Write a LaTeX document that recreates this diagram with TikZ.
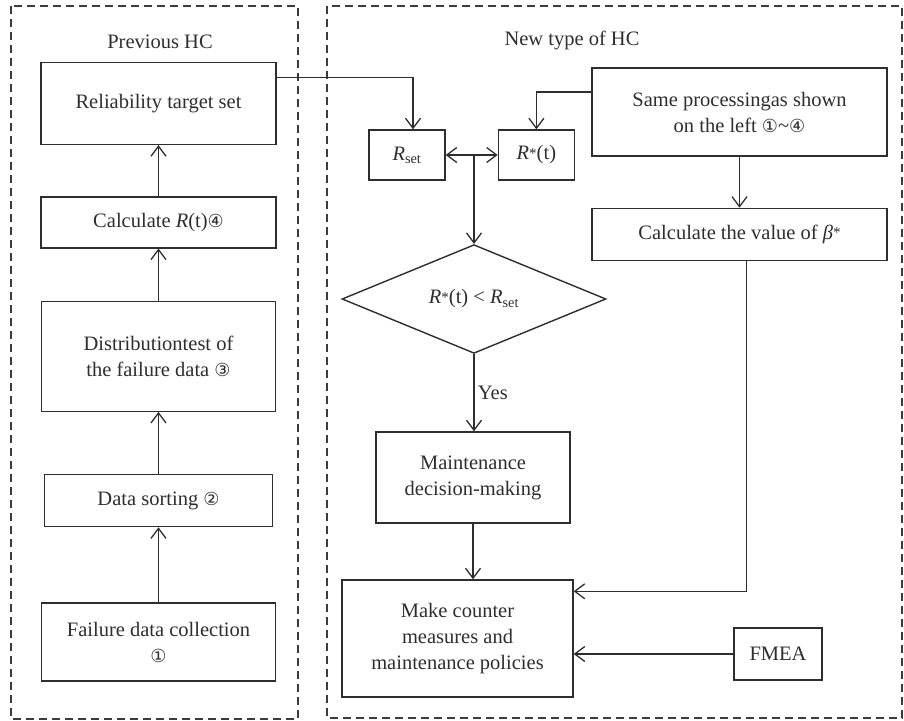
\documentclass[tikz,border=0pt]{standalone}
\usepackage{fontspec}
\setmainfont{Liberation Serif}
\newfontfamily\circfont{DejaVu Sans}
\usetikzlibrary{shapes.geometric, arrows.meta, positioning, calc}
\definecolor{ink}{HTML}{2E2E2E}
\definecolor{frameink}{HTML}{3C3C3C}
\newcommand{\circnum}[1]{{\circfont\fontsize{18}{18}\selectfont #1}}
\newcommand{\starsup}{\raisebox{0.08em}{\fontsize{15}{15}\selectfont *}}
\tikzset{
  box/.style      = {rectangle, draw=ink, line width=1.4pt, fill=white, align=center,
                      inner sep=2pt, text=ink, font=\fontsize{20.5}{26}\selectfont},
  decision/.style = {diamond, draw=ink, line width=1.4pt, fill=white, align=center,
                      minimum width=264pt, minimum height=108pt, inner sep=0pt,
                      text=ink, font=\fontsize{20.5}{26}\selectfont},
  frame/.style    = {draw=frameink, line width=1.1pt, dash pattern=on 8pt off 5pt},
  title/.style    = {text=ink, font=\fontsize{20.5}{24}\selectfont},
  flow/.style     = {-{Straight Barb[length=10pt, width=15pt, line width=1.3pt]},
                      line width=1.3pt, draw=ink},
  flowboth/.style = {{Straight Barb[length=10pt, width=15pt, line width=1.3pt]}-{Straight Barb[length=10pt, width=15pt, line width=1.3pt]},
                      line width=1.3pt, draw=ink},
}

\begin{document}
\begin{tikzpicture}[x=1pt, y=1pt]
\useasboundingbox (0,0) rectangle (904,-720);

% ---- Frames ----
\draw[frame] (11,-6) rectangle (298,-719);
\draw[frame] (327,-6) rectangle (902,-718);
\node[title] (prevtitle) at (160,-42) {Previous HC};
\node[title] (newtitle) at (572,-40) {New type of HC};

% ---- Previous HC ----
\node[box, minimum width=234pt, minimum height=78pt] (collect) at (158.5,-642)
  {Failure data collection\\ \circnum{①}};
\node[box, above=75pt of collect, minimum width=228pt, minimum height=52pt] (sorting)
  {Data sorting \circnum{②}};
\node[box, above=62pt of sorting, minimum width=234pt, minimum height=110pt] (distr)
  {Distributiontest of\\ the failure data \circnum{③}};
\node[box, above=52pt of distr, minimum width=235pt, minimum height=51pt] (calcr)
  {Calculate \textit{R}(t)\circnum{④}};
\node[box, above=51pt of calcr, minimum width=235pt, minimum height=82pt] (target)
  {Reliability target set};

% ---- New type of HC ----
\node[box, minimum width=76pt, minimum height=50pt] (rset) at (407,-155)
  {\textit{R}\textsubscript{set}};
\node[box, right=52pt of rset, minimum width=76pt, minimum height=50pt] (rstar)
  {\textit{R}\starsup(t)};
\node[box, minimum width=295pt, minimum height=88pt] (same) at (739.5,-112)
  {Same processingas shown\\ on the left \circnum{①}\textasciitilde\circnum{④}};
\node[box, below=51pt of same, minimum width=295pt, minimum height=52pt] (beta)
  {Calculate the value of \textit{β}\starsup};
\node[decision] (cmp) at (474,-299)
  {\textit{R}\starsup(t) < \textit{R}\textsubscript{set}};
\node[box, minimum width=194pt, minimum height=91pt] (maint) at (473,-477.5)
  {Maintenance\\ decision-making};
\node[box, minimum width=231pt, minimum height=117pt] (counter) at (457.5,-638.5)
  {Make counter\\ measures and\\ maintenance policies};
\node[box, minimum width=88pt, minimum height=52pt] (fmea) at (778,-654)
  {FMEA};

% ===== Left spine =====
\draw[flow] (collect) -- (sorting);
\draw[flow] (sorting) -- (distr);
\draw[flow] (distr) -- (calcr);
\draw[flow] (calcr) -- (target);

% ===== Right side =====
\draw[flow] ([yshift=26pt]target.east) -| ([xshift=6pt]rset.north);
\draw[flow] ([yshift=20pt]same.west) -| (rstar.north);
\draw[flowboth] (rset.east) -- (rstar.west);
\draw[flow] (cmp.north |- rset.east) -- (cmp.north);
\draw[flow] (same) -- (beta);
\draw[flow] (cmp.south) -- node[right, text=ink, font=\fontsize{20.5}{24}\selectfont] {Yes} (maint.north -| cmp.south);
\draw[flow] (maint.south) -- (maint.south |- counter.north);
\draw[flow] ([xshift=7pt]beta.south) |- ([yshift=-12pt]counter.north east);
\draw[flow] (fmea.west) -- (fmea.west -| counter.east);

\end{tikzpicture}
\end{document}
